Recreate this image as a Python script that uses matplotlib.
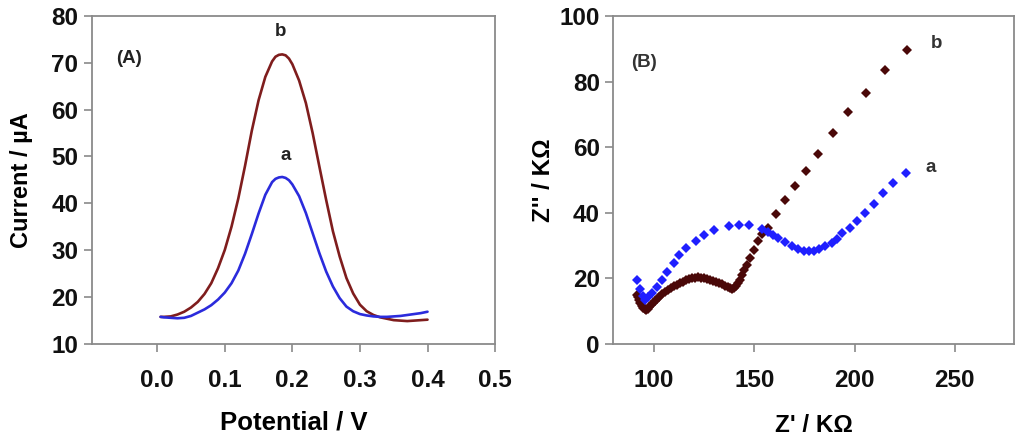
import matplotlib
matplotlib.use("Agg")
import matplotlib.pyplot as plt

plt.rcParams['font.family'] = ['Liberation Sans', 'DejaVu Sans']

# ---------------- Panel A data (DPV) ----------------
pot_v = [0.005, 0.01, 0.02, 0.03, 0.04, 0.05, 0.06, 0.07, 0.08, 0.09,
         0.10, 0.11, 0.12, 0.13, 0.14, 0.15, 0.16, 0.17, 0.175, 0.18, 0.185,
         0.19, 0.195, 0.20, 0.21, 0.22, 0.23, 0.24, 0.25, 0.26, 0.27, 0.28,
         0.29, 0.30, 0.31, 0.32, 0.33, 0.34, 0.35, 0.36, 0.37, 0.38,
         0.39, 0.40]
current_b = [15.7, 15.7, 15.8, 16.2, 16.8, 17.7, 18.9, 20.6, 22.9, 26.1,
             30.0, 35.0, 41.0, 48.0, 55.5, 62.0, 67.0, 70.3, 71.3, 71.7, 71.8,
             71.6, 70.9, 69.7, 66.2, 61.4, 55.0, 47.8, 40.7, 34.0, 28.6, 24.0,
             20.7, 18.3, 16.9, 16.1, 15.6, 15.3, 15.0, 14.9, 14.8, 14.9,
             15.0, 15.1]
current_a = [15.7, 15.6, 15.5, 15.4, 15.5, 15.9, 16.6, 17.3, 18.2, 19.4,
             20.9, 22.9, 25.6, 29.2, 33.4, 37.8, 41.8, 44.5, 45.2, 45.5, 45.6,
             45.4, 44.9, 44.0, 41.5, 37.9, 33.6, 29.3, 25.4, 22.2, 19.7, 17.9,
             16.9, 16.3, 16.0, 15.8, 15.7, 15.7, 15.8, 15.9, 16.1, 16.3,
             16.5, 16.8]

# ---------------- Panel B data (Nyquist) ----------------
zre_a = [91.5, 93.0, 94.5, 95.7, 97.0, 99.0, 101.5, 104.0, 106.5, 109.8,
         112.3, 116.0, 120.7, 124.8, 129.8, 137.5, 142.2, 147.5, 153.7, 156.7,
         159.5, 162.0, 165.5, 168.8, 172.0, 175.0, 177.5, 180.0, 182.5, 185.5,
         188.5, 191.0, 193.5, 197.5, 201.2, 205.0, 209.5, 214.2, 219.2, 225.5]
zim_a = [19.4, 16.8, 14.5, 13.4, 14.2, 15.5, 17.5, 19.5, 22.0, 24.6,
         27.1, 29.2, 31.5, 33.2, 34.8, 36.0, 36.2, 36.2, 35.0, 34.2,
         33.2, 32.2, 31.0, 29.8, 28.9, 28.5, 28.4, 28.5, 29.0, 29.8,
         30.9, 32.0, 33.7, 35.5, 37.6, 40.0, 42.7, 45.9, 49.0, 52.2]

zre_b = [91.5, 92.0, 92.6, 93.2, 93.9, 94.6, 95.3, 96.0, 96.8, 97.6,
         98.5, 99.5, 100.5, 101.5, 102.5, 104.0, 105.5, 107.0, 108.5, 110.0,
         111.5, 113.0, 114.5, 116.0, 117.5, 119.0, 120.5, 122.0, 123.5, 125.0,
         126.5, 128.0, 129.5, 131.0, 132.5, 134.0, 135.5, 137.0, 138.0, 139.0,
         140.0, 141.0, 142.0, 143.0, 144.0, 145.0, 146.3, 148.0, 150.0, 152.0,
         154.0, 156.7, 160.8, 165.5, 170.5, 175.8, 182.0, 189.2, 196.7, 205.5,
         215.0, 226.2]
zim_b = [15.0, 14.2, 13.3, 12.4, 11.6, 11.0, 10.6, 10.5, 10.8, 11.3,
         11.9, 12.5, 13.1, 13.7, 14.3, 15.1, 15.8, 16.5, 17.0, 17.6,
         18.1, 18.6, 19.0, 19.4, 19.7, 20.0, 20.2, 20.3, 20.2, 20.1,
         19.9, 19.6, 19.3, 19.0, 18.6, 18.2, 17.7, 17.3, 17.0, 16.9,
         17.2, 17.8, 18.6, 19.6, 21.0, 22.5, 24.2, 26.2, 28.8, 31.3,
         33.6, 35.5, 39.6, 43.9, 48.1, 52.8, 57.9, 64.4, 70.6, 76.6,
         83.5, 89.6]

xticks_a = [0.0, 0.1, 0.2, 0.3, 0.4, 0.5]
xticklabels_a = ['0.0', '0.1', '0.2', '0.3', '0.4', '0.5']
yticks_a = [10, 20, 30, 40, 50, 60, 70, 80]
xticks_b = [100, 150, 200, 250]
yticks_b = [0, 20, 40, 60, 80, 100]

fig = plt.figure(figsize=(10.24, 4.45), dpi=100)
axA = fig.add_axes([0.0895, 0.228, 0.394, 0.736])
axB = fig.add_axes([0.5986, 0.227, 0.3916, 0.737])

spine_col = '#8a8a8a'
for ax in (axA, axB):
    for s in ax.spines.values():
        s.set_color(spine_col)
        s.set_linewidth(1.3)
    ax.tick_params(direction='out', length=6, width=1.2, color=spine_col,
                   labelsize=17.5, labelcolor='#111111')
    ax.tick_params(top=False, right=False)

# Panel A
axA.plot(pot_v, current_b, color='#7f1d1d', lw=1.9, solid_capstyle='round')
axA.plot(pot_v, current_a, color='#2b2bdc', lw=1.9, solid_capstyle='round')
axA.set_xlim(-0.097, 0.5)
axA.set_ylim(10, 80)
axA.set_xticks(xticks_a)
axA.set_xticklabels(xticklabels_a, fontweight='bold')
axA.set_yticks(yticks_a)
axA.set_yticklabels([str(v) for v in yticks_a], fontweight='bold')
axA.tick_params(axis='x', pad=12)
axA.set_xlabel('Potential / V', fontsize=18.5, fontweight='bold', labelpad=14)
axA.set_ylabel('Current / µA', fontsize=17, fontweight='bold', labelpad=13)
axA.text(-0.041, 70.9, '(A)', fontsize=13.5, fontweight='bold', ha='center', va='center', color='#222222')
axA.text(0.1825, 76.7, 'b', fontsize=13.5, fontweight='bold', ha='center', va='center', color='#222222')
axA.text(0.19, 50.1, 'a', fontsize=13.5, fontweight='bold', ha='center', va='center', color='#222222')

# Panel B
axB.plot(zre_b, zim_b, linestyle='none', marker='D', ms=5.3, color='#4a0808',
         markeredgewidth=0)
axB.plot(zre_a, zim_a, linestyle='none', marker='D', ms=5.3, color='#1f1fff',
         markeredgewidth=0)
axB.set_xlim(79.5, 279.5)
axB.set_ylim(0, 100)
axB.set_xticks(xticks_b)
axB.set_xticklabels([str(v) for v in xticks_b], fontweight='bold')
axB.set_yticks(yticks_b)
axB.set_yticklabels([str(v) for v in yticks_b], fontweight='bold')
axB.tick_params(axis='x', pad=12)
axB.set_xlabel("Z' / KΩ", fontsize=17.5, fontweight='bold', labelpad=16)
axB.set_ylabel("Z'' / KΩ", fontsize=17.5, fontweight='bold', labelpad=3)
axB.text(94.9, 85.8, '(B)', fontsize=13.5, fontweight='bold', ha='center', va='center', color='#333333')
axB.text(240.8, 91.5, 'b', fontsize=13.5, fontweight='bold', ha='center', va='center', color='#333333')
axB.text(237.8, 53.8, 'a', fontsize=13.5, fontweight='bold', ha='center', va='center', color='#333333')

fig.savefig('out.png', dpi=100)
